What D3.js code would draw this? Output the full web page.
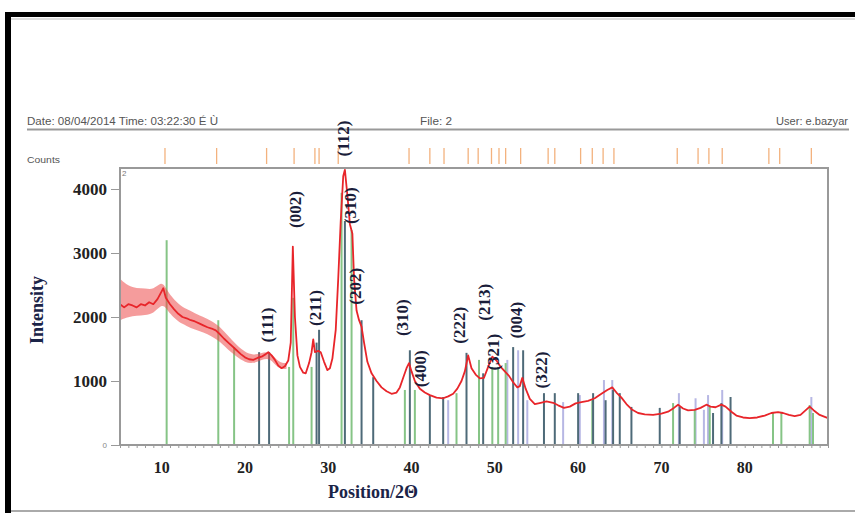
<!DOCTYPE html>
<html>
<head>
<meta charset="utf-8">
<script src="https://cdn.jsdelivr.net/npm/d3@7/dist/d3.min.js"></script>
<style>
  body { margin: 0; background: #fff; }
  svg { display: block; }
</style>
</head>
<body>
<div class="chart"></div>
<script>
var width = 855,
    height = 513;

// red measured trace (2theta, counts)
var scanPos = [5.0,5.5,6.0,6.5,7.0,7.5,8.0,8.5,9.0,9.5,10.0,10.2,10.5,11.0,11.5,12.0,12.5,13.0,13.5,14.0,14.5,15.0,15.5,16.0,16.5,17.0,17.5,18.0,18.5,19.0,19.5,20.0,20.5,21.0,21.5,22.0,22.5,22.8,23.2,23.6,24.0,24.4,24.8,25.2,25.5,25.75,26.0,26.3,26.6,27.0,27.3,27.7,28.0,28.2,28.4,28.8,29.1,29.5,29.9,30.2,30.5,30.9,31.2,31.5,31.8,32.0,32.3,32.6,32.9,33.1,33.4,33.7,34.0,34.3,34.7,35.2,35.8,36.4,37.0,37.6,38.2,38.6,39.0,39.4,39.7,40.0,40.4,41.0,41.6,42.2,43.0,43.8,44.4,45.0,45.5,46.0,46.4,46.8,47.2,47.7,48.2,48.7,49.2,49.7,50.2,50.7,51.2,51.7,52.2,52.7,53.0,53.3,53.7,54.2,54.8,55.5,56.2,57.0,57.6,58.3,59.0,59.7,60.4,61.2,62.0,62.8,63.5,64.1,64.6,65.2,65.8,66.5,67.2,68.0,69.0,70.0,70.8,71.5,72.0,72.6,73.2,74.0,74.7,75.4,75.9,76.5,77.2,77.7,78.4,79.0,79.8,80.6,81.5,82.4,83.2,84.0,84.6,85.3,86.0,86.7,87.3,87.8,88.3,89.0,90.0];
var scanCounts = [2200,2150,2200,2180,2150,2200,2180,2230,2200,2280,2400,2450,2300,2200,2120,2050,2000,1980,1950,1930,1900,1870,1840,1820,1790,1730,1660,1600,1540,1480,1420,1370,1340,1330,1360,1380,1420,1450,1400,1330,1240,1200,1230,1320,1600,3100,2000,1400,1220,1130,1120,1280,1450,1650,1450,1470,1450,1300,1170,1200,1350,1800,2600,3500,4200,4300,3900,3450,3300,2600,2100,1950,1850,1600,1300,1120,1000,900,840,800,820,900,1050,1200,1280,1150,1000,880,820,780,740,730,760,800,880,1000,1150,1400,1200,1100,1040,1050,1220,1380,1320,1220,1150,1080,980,900,920,1050,880,720,640,660,680,660,620,580,600,650,670,690,730,800,860,900,820,740,640,550,500,480,470,490,520,580,630,570,540,550,580,630,600,590,630,600,520,460,430,420,430,460,500,515,500,470,450,470,540,600,540,470,420];

// noise band around the trace at low angle
var bandPos = [5,6,7,8,9,10,10.5,11,12,13,14,15,16,17,18,19,20,21,22,23,24,25];
var bandHi = [2600,2480,2450,2450,2420,2560,2450,2350,2200,2120,2060,2000,1940,1850,1700,1560,1450,1400,1440,1470,1290,1280];
var bandLo = [1950,2000,2020,2030,2050,2200,2150,2050,1920,1860,1800,1760,1700,1620,1480,1380,1290,1270,1330,1370,1180,1190];

// reference pattern sticks
var greenPos = [10.6,16.8,18.7,25.3,25.8,28.0,31.6,32.8,39.2,40.4,45.4,48.1,49.7,50.4,51.3,61.7,71.4,74.0,75.8,83.4,84.4,87.8,88.2];
var greenCounts = [3200,1950,1530,1220,2300,1220,3940,3360,860,860,810,1330,1220,1220,1280,700,655,550,595,500,515,625,500];
var slatePos = [21.7,22.9,28.6,28.9,32.0,34.0,35.4,39.8,42.2,43.8,46.6,48.6,52.2,53.4,55.9,57.2,60.0,61.8,63.3,64.2,65.0,66.4,69.8,72.2,76.2,77.2,78.3];
var slateCounts = [1450,1450,1600,1800,3500,1950,1060,1480,780,750,1440,1120,1530,1480,810,810,810,810,700,860,810,595,580,595,500,655,750];
var lavPos = [44.4,51.5,52.8,53.9,58.2,60.2,63.1,64.1,72.1,74.1,75.1,75.6,77.3,88.0];
var lavCounts = [700,1330,1480,700,670,780,1015,1015,810,730,550,780,860,750];

// orange marker ticks above the plot
var markerPos = [10.4,16.6,22.6,25.9,28.4,28.9,31.2,39.7,42.2,43.9,46.8,48.0,49.6,50.5,51.3,53.1,56.4,57.2,60.3,61.7,63.0,64.3,71.9,74.4,75.7,77.3,82.9,84.2,88.0];

// peak labels
var hklText = ["(111)","(002)","(211)","(112)","(310)","(202)","(310)","(400)","(222)","(213)","(321)","(004)","(322)"];
var hklPos = [22.6,26.0,28.4,31.8,32.6,33.2,38.8,41.0,45.7,48.7,49.8,52.5,55.6];
var hklCounts = [1875,3680,2140,4790,3740,2480,1990,1190,1870,2230,1450,1950,1170];

var xTicks = [10,20,30,40,50,60,70,80];
var yTicks = [0,1000,2000,3000,4000];

var svg = d3.select(".chart").append("svg")
    .attr("width", width)
    .attr("height", height);

var x = d3.scaleLinear().domain([5, 90]).range([120, 828]);
var y = d3.scaleLinear().domain([0, 4000]).range([445, 189]);

// outer frame bits
svg.append("rect").attr("x", 5).attr("y", 12).attr("width", 850).attr("height", 5).attr("fill", "#000");
svg.append("line").attr("x1", 5).attr("x2", 855).attr("y1", 19).attr("y2", 19).attr("stroke", "#bbb");
svg.append("rect").attr("x", 5).attr("y", 12).attr("width", 6).attr("height", 501).attr("fill", "#000");
svg.append("line").attr("x1", 11).attr("x2", 855).attr("y1", 511).attr("y2", 511).attr("stroke", "#aaa").attr("stroke-width", 2);

// header
var hdr = svg.append("g")
    .attr("font-family", "'Liberation Sans Narrow', 'Liberation Sans', sans-serif")
    .attr("font-size", 10)
    .attr("fill", "#555");
hdr.append("text").attr("x", 27).attr("y", 125)
    .attr("textLength", 191).attr("lengthAdjust", "spacingAndGlyphs")
    .text("Date: 08/04/2014 Time: 03:22:30 É Ù");
hdr.append("text").attr("x", 420).attr("y", 125)
    .attr("textLength", 32).attr("lengthAdjust", "spacingAndGlyphs")
    .text("File: 2");
hdr.append("text").attr("x", 848).attr("y", 125).attr("text-anchor", "end")
    .attr("textLength", 72).attr("lengthAdjust", "spacingAndGlyphs")
    .text("User: e.bazyar");
hdr.append("text").attr("x", 27).attr("y", 163).attr("font-size", 9)
    .attr("textLength", 33).attr("lengthAdjust", "spacingAndGlyphs")
    .text("Counts");
svg.append("line").attr("x1", 27).attr("x2", 849).attr("y1", 129.5).attr("y2", 129.5)
    .attr("stroke", "#999").attr("stroke-width", 2);

svg.selectAll(".marker")
    .data(markerPos)
    .enter().append("line")
    .attr("class", "marker")
    .attr("x1", function(d) { return x(d); })
    .attr("x2", function(d) { return x(d); })
    .attr("y1", 148).attr("y2", 164)
    .attr("stroke", "#f3b27e")
    .attr("stroke-width", 1.3);

// sticks
function sticks(pos, counts, color, w) {
  svg.append("g").selectAll("line")
    .data(d3.zip(pos, counts))
    .enter().append("line")
    .attr("x1", function(d) { return x(d[0]); })
    .attr("x2", function(d) { return x(d[0]); })
    .attr("y1", y(0))
    .attr("y2", function(d) { return y(d[1]); })
    .attr("stroke", color)
    .attr("stroke-width", w);
}
sticks(lavPos, lavCounts, "#b7b7e4", 2);
sticks(greenPos, greenCounts, "#86c486", 2);
sticks(slatePos, slateCounts, "#4e6a78", 2);

// noisy band + trace
var band = d3.area()
    .x(function(d) { return x(d[0]); })
    .y0(function(d) { return y(d[2]); })
    .y1(function(d) { return y(d[1]); })
    .curve(d3.curveBasis);
svg.append("path")
    .datum(d3.zip(bandPos, bandHi, bandLo))
    .attr("d", band)
    .attr("fill", "#ec4a4a")
    .attr("opacity", 0.55);

var line = d3.line()
    .x(function(d) { return x(d[0]); })
    .y(function(d) { return y(d[1]); });
svg.append("path")
    .datum(d3.zip(scanPos, scanCounts))
    .attr("d", line)
    .attr("fill", "none")
    .attr("stroke", "#e8252a")
    .attr("stroke-width", 1.8)
    .attr("stroke-linejoin", "round");

// plot box
svg.append("rect")
    .attr("x", 120).attr("y", 168)
    .attr("width", 708).attr("height", 277)
    .attr("fill", "none")
    .attr("stroke", "#999")
    .attr("stroke-width", 2);
svg.append("text").attr("x", 122).attr("y", 176)
    .attr("font-family", "'Liberation Sans', sans-serif")
    .attr("font-size", 8).attr("fill", "#777").text("2");

// x axis: minor ticks every degree, labels every 10
var xAxis = svg.append("g")
    .attr("transform", "translate(0,445)")
    .call(d3.axisBottom(x).tickValues(d3.range(5, 91)).tickSize(3).tickFormat(""));
xAxis.select(".domain").remove();
xAxis.selectAll("line").attr("stroke", "#999");

svg.selectAll(".xlab")
    .data(xTicks)
    .enter().append("text")
    .attr("class", "xlab")
    .attr("x", function(d) { return x(d); })
    .attr("y", 473)
    .attr("text-anchor", "middle")
    .attr("font-family", "'Liberation Serif', serif")
    .attr("font-weight", "bold")
    .attr("font-size", 16)
    .attr("fill", "#222")
    .text(function(d) { return d; });

// y axis
var yAxis = svg.append("g")
    .attr("transform", "translate(119,0)")
    .call(d3.axisLeft(y).tickValues(yTicks).tickSize(8).tickPadding(4).tickFormat(d3.format("d")));
yAxis.select(".domain").remove();
yAxis.selectAll("line").attr("stroke", "#999");
yAxis.selectAll("text")
    .attr("font-family", "'Liberation Serif', serif")
    .attr("font-weight", "bold")
    .attr("font-size", 17)
    .attr("fill", "#222")
    .attr("dy", "0.35em");
yAxis.selectAll("text").filter(function(d) { return d === 0; })
    .attr("font-family", "'Liberation Sans', sans-serif")
    .attr("font-weight", "normal")
    .attr("font-size", 8)
    .attr("fill", "#888");

// axis titles
svg.append("text")
    .attr("transform", "translate(43,310) rotate(-90)")
    .attr("text-anchor", "middle")
    .attr("font-family", "'Liberation Serif', serif")
    .attr("font-weight", "bold")
    .attr("font-size", 18)
    .attr("fill", "#1b2448")
    .text("Intensity");
svg.append("text")
    .attr("x", 373).attr("y", 498)
    .attr("text-anchor", "middle")
    .attr("font-family", "'Liberation Serif', serif")
    .attr("font-weight", "bold")
    .attr("font-size", 18)
    .attr("fill", "#1b2448")
    .text("Position/2Θ");

// hkl labels
svg.selectAll(".hkl")
    .data(d3.zip(hklText, hklPos, hklCounts))
    .enter().append("text")
    .attr("class", "hkl")
    .attr("transform", function(d) { return "translate(" + (x(d[1]) + 6) + "," + y(d[2]) + ") rotate(-90)"; })
    .attr("text-anchor", "middle")
    .attr("font-family", "'Liberation Serif', serif")
    .attr("font-weight", "bold")
    .attr("font-size", 17)
    .attr("fill", "#1a1d3a")
    .text(function(d) { return d[0]; });
</script>
</body>
</html>
